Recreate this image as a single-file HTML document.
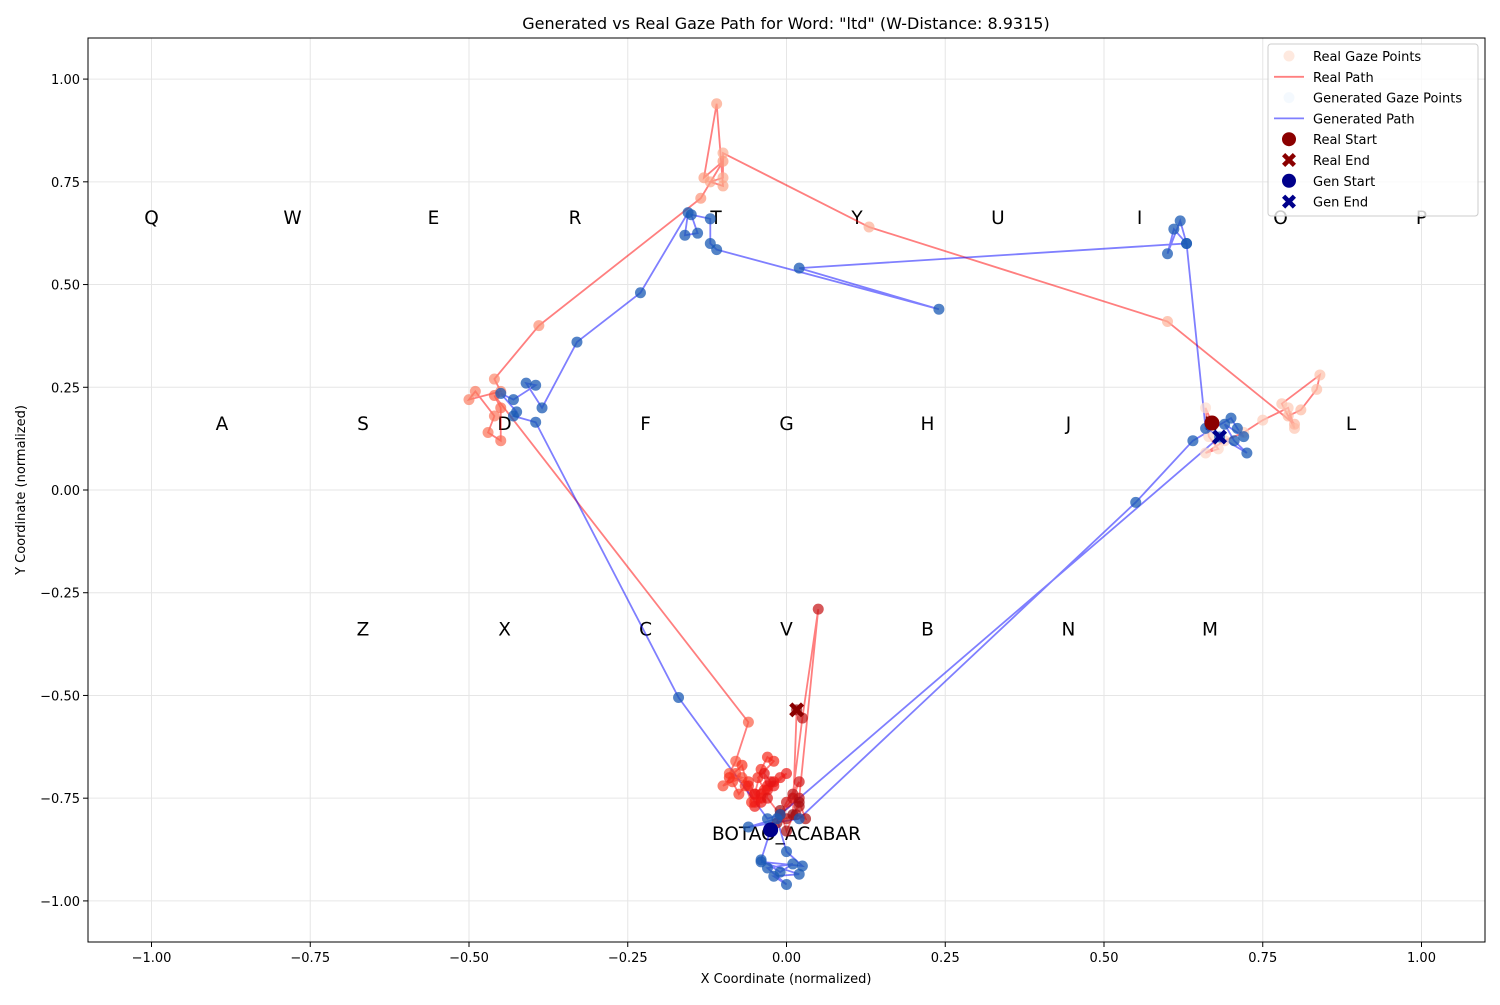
<!DOCTYPE html>
<html><head><meta charset="utf-8"><style>
body{margin:0;background:#fff;font-family:"Liberation Sans","DejaVu Sans",sans-serif;}
svg text{font-family:"DejaVu Sans","Liberation Sans",sans-serif;}
</style></head><body>
<svg id="chart" width="1500" height="1000" xmlns="http://www.w3.org/2000/svg"></svg>
<script>
const xTicks=[-1.0,-0.75,-0.5,-0.25,0,0.25,0.5,0.75,1.0];
const yTicks=[-1.0,-0.75,-0.5,-0.25,0,0.25,0.5,0.75,1.0];
const tickLabels=["−1.00","−0.75","−0.50","−0.25","0.00","0.25","0.50","0.75","1.00"];
const keyLetters=["Q","W","E","R","T","Y","U","I","O","P","A","S","D","F","G","H","J","K","L","Z","X","C","V","B","N","M"];
const keyX=[-1,-0.778,-0.556,-0.333,-0.111,0.111,0.333,0.556,0.778,1,-0.889,-0.667,-0.444,-0.222,0,0.222,0.444,0.667,0.889,-0.667,-0.444,-0.222,0,0.222,0.444,0.667];
const keyY=[0.664,0.664,0.664,0.664,0.664,0.664,0.664,0.664,0.664,0.664,0.163,0.163,0.163,0.163,0.163,0.163,0.163,0.163,0.163,-0.337,-0.337,-0.337,-0.337,-0.337,-0.337,-0.337];
const realX=[0.67,0.66,0.665,0.68,0.66,0.69,0.72,0.75,0.79,0.8,0.78,0.84,0.835,0.81,0.79,0.8,0.6,0.13,-0.1,-0.1,-0.12,-0.1,-0.11,-0.13,-0.1,-0.135,-0.39,-0.46,-0.45,-0.5,-0.49,-0.46,-0.47,-0.45,-0.45,-0.46,
-0.06,-0.08,-0.09,-0.07,-0.1,-0.08,-0.085,-0.075,-0.065,-0.055,-0.07,-0.09,-0.06,-0.05,-0.04,-0.03,-0.02,-0.045,-0.035,-0.05,-0.06,-0.04,-0.03,-0.02,-0.04,-0.05,-0.03,-0.01,0.0,-0.02,-0.04,-0.05,-0.025,-0.035,-0.03,-0.01,0.01,0.02,0.0,-0.01,0.02,0.05,0.025,0.01,0.02,0.0,0.015,0.03,0.02,0.0,-0.01,-0.015,0.01,0.016];
const realY=[0.163,0.2,0.13,0.1,0.09,0.12,0.14,0.17,0.2,0.15,0.21,0.28,0.245,0.195,0.18,0.16,0.41,0.64,0.82,0.76,0.75,0.74,0.94,0.76,0.8,0.71,0.40,0.27,0.24,0.22,0.24,0.18,0.14,0.12,0.2,0.23,
-0.565,-0.66,-0.69,-0.7,-0.72,-0.69,-0.71,-0.74,-0.72,-0.76,-0.67,-0.7,-0.71,-0.74,-0.68,-0.65,-0.66,-0.7,-0.73,-0.76,-0.72,-0.75,-0.72,-0.71,-0.74,-0.77,-0.73,-0.7,-0.69,-0.72,-0.76,-0.74,-0.71,-0.69,-0.75,-0.79,-0.75,-0.71,-0.76,-0.79,-0.75,-0.29,-0.555,-0.74,-0.77,-0.8,-0.79,-0.8,-0.76,-0.83,-0.78,-0.81,-0.79,-0.535];
const genX=[-0.025,-0.04,-0.01,0.01,-0.03,0.0,-0.02,0.02,-0.04,0.025,0.0,-0.015,-0.06,0.02,0.55,0.64,0.7,0.71,0.72,0.69,0.705,0.725,0.66,0.63,0.62,0.6,0.61,0.63,0.02,0.24,-0.11,-0.12,-0.12,-0.15,-0.14,-0.16,-0.155,-0.23,-0.33,-0.385,-0.41,-0.395,-0.43,-0.45,-0.425,-0.43,-0.395,-0.17,-0.03,-0.01,0.682];
const genY=[-0.827,-0.9,-0.93,-0.91,-0.92,-0.96,-0.94,-0.935,-0.905,-0.915,-0.88,-0.8,-0.82,-0.8,-0.03,0.12,0.175,0.15,0.13,0.16,0.12,0.09,0.15,0.6,0.655,0.575,0.635,0.6,0.54,0.44,0.585,0.6,0.66,0.67,0.625,0.62,0.675,0.48,0.36,0.2,0.26,0.255,0.22,0.235,0.19,0.18,0.165,-0.505,-0.8,-0.79,0.129];
const realStart=[0.67,0.163],realEnd=[0.016,-0.535],genStart=[-0.025,-0.827],genEnd=[0.682,0.129];

const NS="http://www.w3.org/2000/svg";
const svg=document.getElementById('chart');
const L=88,R=1485,T=38,B=942;
const sx=v=>L+(v+1.1)/2.2*(R-L);
const sy=v=>B-(v+1.1)/2.2*(B-T);
function mk(tag,attrs,parent){const e=document.createElementNS(NS,tag);for(const k in attrs)e.setAttribute(k,attrs[k]);(parent||svg).appendChild(e);return e;}
function txt(s,attrs,parent){const e=mk('text',attrs,parent);e.textContent=s;return e;}
function lerp(a,b,t){return a.map((v,i)=>Math.round(v+(b[i]-v)*t));}
function reds(t){const s=[[254,224,210],[252,160,130],[250,50,30],[235,20,20],[150,10,15]];const p=t*(s.length-1),i=Math.min(Math.floor(p),s.length-2);return 'rgb('+lerp(s[i],s[i+1],p-i).join(',')+')';}

mk('rect',{x:0,y:0,width:1500,height:1000,fill:'#fff'});
const grid=mk('g',{});


xTicks.forEach(v=>mk('line',{x1:sx(v),x2:sx(v),y1:T,y2:B,stroke:'#e6e6e6','stroke-width':1},grid));
yTicks.forEach(v=>mk('line',{y1:sy(v),y2:sy(v),x1:L,x2:R,stroke:'#e6e6e6','stroke-width':1},grid));

const keys=mk('g',{});


keyLetters.forEach((k,i)=>{const t=txt(k,{x:sx(keyX[i]),y:sy(keyY[i])+7,'text-anchor':'middle','font-size':18.5,fill:'#000'},keys);

});
const bt=txt('BOTAO_ACABAR',{x:sx(0),y:sy(-0.835)+7,'text-anchor':'middle','font-size':18.5,fill:'#000'});



const rp=mk('polyline',{points:realX.map((x,i)=>sx(x)+','+sy(realY[i])).join(' '),fill:'none',stroke:'rgba(255,0,0,0.5)','stroke-width':1.8});


const gp=mk('polyline',{points:genX.map((x,i)=>sx(x)+','+sy(genY[i])).join(' '),fill:'none',stroke:'rgba(0,0,255,0.5)','stroke-width':1.8});



realX.forEach((x,i)=>{const c=mk('circle',{cx:sx(x),cy:sy(realY[i]),r:5.5,fill:reds(i/(realX.length-1)),'fill-opacity':0.7});

});
genX.forEach((x,i)=>{const c=mk('circle',{cx:sx(x),cy:sy(genY[i]),r:5.5,fill:'rgb(25,90,180)','fill-opacity':0.75});

});

function xMark(cx,cy,col,s){const w=3.2;const d=`M${cx-s},${cy-s+w}L${cx-s+w},${cy-s}L${cx},${cy-w}L${cx+s-w},${cy-s}L${cx+s},${cy-s+w}L${cx+w},${cy}L${cx+s},${cy+s-w}L${cx+s-w},${cy+s}L${cx},${cy+w}L${cx-s+w},${cy+s}L${cx-s},${cy+s-w}L${cx-w},${cy}Z`;return mk('path',{d:d,fill:col});}
let m=mk('circle',{cx:sx(realStart[0]),cy:sy(realStart[1]),r:7.5,fill:'#8b0000'});


m=xMark(sx(realEnd[0]),sy(realEnd[1]),'#8b0000',7.5);


m=mk('circle',{cx:sx(genStart[0]),cy:sy(genStart[1]),r:7.5,fill:'#00008b'});


m=xMark(sx(genEnd[0]),sy(genEnd[1]),'#00008b',7.5);



mk('rect',{x:L,y:T,width:R-L,height:B-T,fill:'none',stroke:'#000','stroke-width':1});
xTicks.forEach((v,i)=>{mk('line',{x1:sx(v),x2:sx(v),y1:B,y2:B+5,stroke:'#000'});
const t=txt(tickLabels[i],{x:sx(v),y:B+20,'text-anchor':'middle','font-size':13});

});
yTicks.forEach((v,i)=>{mk('line',{x1:L-5,x2:L,y1:sy(v),y2:sy(v),stroke:'#000'});
const t=txt(tickLabels[i],{x:L-8,y:sy(v)+5,'text-anchor':'end','font-size':13});

});
let t=txt('X Coordinate (normalized)',{x:786,y:983,'text-anchor':'middle','font-size':13});


t=txt('Y Coordinate (normalized)',{x:25,y:490,'text-anchor':'middle','font-size':13,transform:'rotate(-90 25 490)'});


t=txt('Generated vs Real Gaze Path for Word: "ltd" (W-Distance: 8.9315)',{x:786,y:29,'text-anchor':'middle','font-size':16});



const lg=mk('g',{});


mk('rect',{x:1268,y:44,width:210,height:172,rx:3,fill:'rgba(255,255,255,0.8)',stroke:'#ccc'},lg);
const leg=['Real Gaze Points','Real Path','Generated Gaze Points','Generated Path','Real Start','Real End','Gen Start','Gen End'];
leg.forEach((s,i)=>{const y=56+i*20.8;const cx=1289;
if(i==0)mk('circle',{cx:cx,cy:y,r:5.5,fill:'#fee0d2','fill-opacity':0.7},lg);
if(i==1)mk('line',{x1:1274,x2:1304,y1:y,y2:y,stroke:'rgba(255,0,0,0.5)','stroke-width':1.8},lg);
if(i==2)mk('circle',{cx:cx,cy:y,r:5.5,fill:'#f0f6fd','fill-opacity':0.7},lg);
if(i==3)mk('line',{x1:1274,x2:1304,y1:y,y2:y,stroke:'rgba(0,0,255,0.5)','stroke-width':1.8},lg);
if(i==4)mk('circle',{cx:cx,cy:y,r:7,fill:'#8b0000'},lg);
if(i==5)lg.appendChild(xMark(cx,y,'#8b0000',7));
if(i==6)mk('circle',{cx:cx,cy:y,r:7,fill:'#00008b'},lg);
if(i==7)lg.appendChild(xMark(cx,y,'#00008b',7));
const e=txt(s,{x:1313,y:y+5,'font-size':13},lg);

});
</script>
</body></html>
